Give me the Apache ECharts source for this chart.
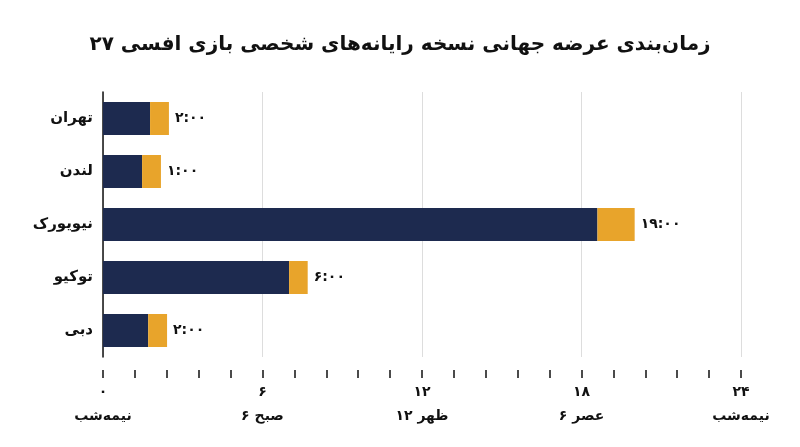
<!DOCTYPE html>
<html><head><meta charset="utf-8">
<script src="https://cdn.jsdelivr.net/npm/echarts@6/dist/echarts.min.js"></script>
<style>html,body{margin:0;background:#fff}#c{width:800px;height:447px}</style>
</head><body><div id="c"></div>
<script>
const cities = ['تهران','لندن','نیویورک','توکیو','دبی'];
const navy = [1.77, 1.47, 18.6, 7.0, 1.7];
const orange = [0.71, 0.71, 1.4, 0.7, 0.71];
const timeLabels = ['۲:۰۰','۱:۰۰','۱۹:۰۰','۶:۰۰','۲:۰۰'];
const tickNums = {0:'۰',6:'۶',12:'۱۲',18:'۱۸',24:'۲۴'};
const tickNames = {0:'نیمه‌شب',6:'۶ صبح',12:'۱۲ ظهر',18:'۶ عصر',24:'نیمه‌شب'};
const F = 'DejaVu Sans';
const chart = echarts.init(document.getElementById('c'));
chart.setOption({
  animation:false,
  title:{text:'زمان‌بندی عرضه جهانی نسخه رایانه‌های شخصی بازی افسی ۲۷',left:'center',top:30,
    textStyle:{fontFamily:F,fontWeight:'bold',fontSize:20,color:'#111'}},
  grid:{left:103,right:59,top:92,bottom:90},
  xAxis:{type:'value',min:0,max:24,interval:6,
    axisLine:{show:false},
    axisTick:{show:true,length:8,inside:false,lineStyle:{color:'#111',width:1.5}},
    minorTick:{show:true,splitNumber:5,length:8,lineStyle:{color:'#111',width:1.5}},
    splitLine:{show:true,lineStyle:{color:'#ddd'}},
    offset:13,
    axisLabel:{margin:10,fontFamily:F,fontWeight:'bold',color:'#111',lineHeight:24,fontSize:14,
      formatter:v=>tickNums[v]+'\n'+tickNames[v]}},
  yAxis:{type:'category',data:cities,inverse:true,
    axisLine:{show:true,lineStyle:{color:'#111',width:1.5}},axisTick:{show:false},
    axisLabel:{fontFamily:F,fontWeight:'bold',fontSize:15,color:'#111',margin:10}},
  series:[
    {type:'bar',stack:'a',data:navy,barWidth:33,itemStyle:{color:'#1d2a4f'}},
    {type:'bar',stack:'a',data:orange,barWidth:33,itemStyle:{color:'#e8a42b'},
     label:{show:true,position:'right',distance:6,fontFamily:F,fontWeight:'bold',fontSize:14,color:'#111',
       formatter:p=>timeLabels[p.dataIndex]}}
  ]
});
</script></body></html>
